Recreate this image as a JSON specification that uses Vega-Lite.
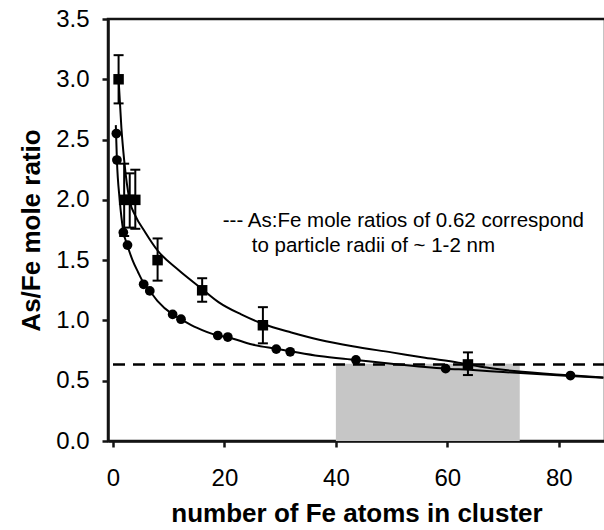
{
  "$schema": "https://vega.github.io/schema/vega-lite/v6.json",
  "width": 497,
  "height": 422,
  "autosize": {"type": "none"},
  "padding": {"left": 108, "top": 19, "right": 0, "bottom": 89},
  "background": "white",
  "config": {
    "view": {"stroke": "#141414", "strokeWidth": 2.5},
    "font": "Liberation Sans",
    "axis": {
      "domainColor": "#141414", "domainWidth": 2.5,
      "tickColor": "#141414", "tickWidth": 2.5, "tickSize": 6,
      "labelColor": "#000000", "labelFont": "Liberation Sans", "labelFontSize": 24,
      "titleColor": "#000000", "titleFont": "Liberation Sans", "titleFontSize": 26, "titleFontWeight": "bold",
      "grid": false
    }
  },
  "datasets": {
    "circles": [
      {"x": 0.6, "y": 2.55}, {"x": 0.7, "y": 2.33}, {"x": 1.85, "y": 1.73}, {"x": 2.6, "y": 1.625},
      {"x": 5.5, "y": 1.3}, {"x": 6.6, "y": 1.245}, {"x": 10.7, "y": 1.05}, {"x": 12.2, "y": 1.01},
      {"x": 18.8, "y": 0.875}, {"x": 20.6, "y": 0.862}, {"x": 29.3, "y": 0.762}, {"x": 31.8, "y": 0.74},
      {"x": 43.6, "y": 0.672}, {"x": 59.7, "y": 0.6}, {"x": 82.1, "y": 0.543}
    ],
    "squares": [
      {"x": 1, "y": 3.0, "ylo": 2.8, "yhi": 3.2},
      {"x": 2, "y": 2.0, "ylo": 1.7, "yhi": 2.3},
      {"x": 3, "y": 2.0, "ylo": 1.77, "yhi": 2.22},
      {"x": 4, "y": 2.0, "ylo": 1.76, "yhi": 2.25},
      {"x": 8, "y": 1.5, "ylo": 1.33, "yhi": 1.68},
      {"x": 16, "y": 1.25, "ylo": 1.155, "yhi": 1.35},
      {"x": 26.9, "y": 0.96, "ylo": 0.81, "yhi": 1.11},
      {"x": 63.7, "y": 0.635, "ylo": 0.547, "yhi": 0.735}
    ],
    "upper": [
      {"x": 1, "y": 3.0}, {"x": 1.5, "y": 2.6}, {"x": 2, "y": 2.33}, {"x": 2.5, "y": 2.13},
      {"x": 3, "y": 1.99}, {"x": 4, "y": 1.87}, {"x": 5.8, "y": 1.73}, {"x": 8, "y": 1.58},
      {"x": 11.7, "y": 1.42}, {"x": 16, "y": 1.26}, {"x": 19, "y": 1.15}, {"x": 23, "y": 1.05},
      {"x": 27, "y": 0.97}, {"x": 32, "y": 0.9}, {"x": 37, "y": 0.84}, {"x": 43, "y": 0.785},
      {"x": 50, "y": 0.735}, {"x": 56, "y": 0.69}, {"x": 62, "y": 0.65}, {"x": 66, "y": 0.615},
      {"x": 72, "y": 0.58}, {"x": 82, "y": 0.545}, {"x": 88, "y": 0.527}
    ],
    "lower": [
      {"x": 0.5, "y": 2.62}, {"x": 0.7, "y": 2.33}, {"x": 1.2, "y": 2.0}, {"x": 1.85, "y": 1.74},
      {"x": 2.6, "y": 1.62}, {"x": 3.5, "y": 1.5}, {"x": 4.5, "y": 1.4}, {"x": 5.5, "y": 1.31},
      {"x": 6.6, "y": 1.245}, {"x": 8, "y": 1.16}, {"x": 10.7, "y": 1.05}, {"x": 12.2, "y": 1.01},
      {"x": 15, "y": 0.94}, {"x": 18.8, "y": 0.875}, {"x": 20.6, "y": 0.86}, {"x": 25, "y": 0.8},
      {"x": 29.3, "y": 0.765}, {"x": 31.8, "y": 0.745}, {"x": 37, "y": 0.705}, {"x": 43.6, "y": 0.672},
      {"x": 50, "y": 0.64}, {"x": 59.7, "y": 0.6}, {"x": 64, "y": 0.59}, {"x": 70, "y": 0.572},
      {"x": 82, "y": 0.54}, {"x": 88, "y": 0.525}
    ],
    "shade": [{"x": 40, "x2": 73, "y": 0, "y2": 0.64}],
    "cutline": [{"ycut": 0.635}],
    "notes": [
      {"x": 19.7, "y": 1.775, "text": "--- As:Fe mole ratios of 0.62 correspond"},
      {"x": 24.9, "y": 1.567, "text": "to particle radii of ~ 1-2 nm"}
    ]
  },
  "encoding": {
    "x": {"type": "quantitative", "scale": {"domain": [-0.9, 88.3], "nice": false, "zero": false},
          "title": "number of Fe atoms in cluster",
          "axis": {"values": [0, 20, 40, 60, 80], "labelPadding": 19, "titlePadding": 10}},
    "y": {"type": "quantitative", "scale": {"domain": [0, 3.5], "nice": false, "zero": false},
          "title": "As/Fe mole ratio",
          "axis": {"values": [0, 0.5, 1, 1.5, 2, 2.5, 3, 3.5], "format": ".1f", "labelPadding": 13, "titlePadding": 11}}
  },
  "layer": [
    {
      "data": {"name": "shade"},
      "mark": {"type": "rect", "color": "#c6c6c6"},
      "encoding": {
        "x": {"field": "x", "type": "quantitative"},
        "x2": {"field": "x2"},
        "y": {"field": "y", "type": "quantitative"},
        "y2": {"field": "y2"}
      }
    },
    {
      "data": {"name": "cutline"},
      "mark": {"type": "rule", "color": "black", "strokeWidth": 2.5, "strokeDash": [12, 8]},
      "encoding": {"y": {"field": "ycut", "type": "quantitative"}}
    },
    {
      "data": {"name": "upper"},
      "mark": {"type": "line", "color": "black", "strokeWidth": 2, "interpolate": "monotone"},
      "encoding": {"x": {"field": "x", "type": "quantitative"}, "y": {"field": "y", "type": "quantitative"}}
    },
    {
      "data": {"name": "lower"},
      "mark": {"type": "line", "color": "black", "strokeWidth": 2, "interpolate": "monotone"},
      "encoding": {"x": {"field": "x", "type": "quantitative"}, "y": {"field": "y", "type": "quantitative"}}
    },
    {
      "data": {"name": "squares"},
      "mark": {"type": "rule", "color": "black", "strokeWidth": 2},
      "encoding": {"x": {"field": "x", "type": "quantitative"}, "y": {"field": "ylo", "type": "quantitative"}, "y2": {"field": "yhi"}}
    },
    {
      "data": {"name": "squares"},
      "mark": {"type": "point", "shape": "M-1,0L1,0", "filled": false, "color": "black", "strokeWidth": 2, "opacity": 1, "size": 100},
      "encoding": {"x": {"field": "x", "type": "quantitative"}, "y": {"field": "ylo", "type": "quantitative"}}
    },
    {
      "data": {"name": "squares"},
      "mark": {"type": "point", "shape": "M-1,0L1,0", "filled": false, "color": "black", "strokeWidth": 2, "opacity": 1, "size": 100},
      "encoding": {"x": {"field": "x", "type": "quantitative"}, "y": {"field": "yhi", "type": "quantitative"}}
    },
    {
      "data": {"name": "squares"},
      "mark": {"type": "point", "shape": "square", "filled": true, "color": "black", "opacity": 1, "size": 110},
      "encoding": {"x": {"field": "x", "type": "quantitative"}, "y": {"field": "y", "type": "quantitative"}}
    },
    {
      "data": {"name": "circles"},
      "mark": {"type": "circle", "color": "black", "opacity": 1, "size": 95},
      "encoding": {"x": {"field": "x", "type": "quantitative"}, "y": {"field": "y", "type": "quantitative"}}
    },
    {
      "data": {"name": "notes"},
      "mark": {"type": "text", "align": "left", "baseline": "alphabetic", "fontSize": 20.5, "color": "black", "font": "Liberation Sans"},
      "encoding": {
        "x": {"field": "x", "type": "quantitative"},
        "y": {"field": "y", "type": "quantitative"},
        "text": {"field": "text"}
      }
    }
  ]
}
